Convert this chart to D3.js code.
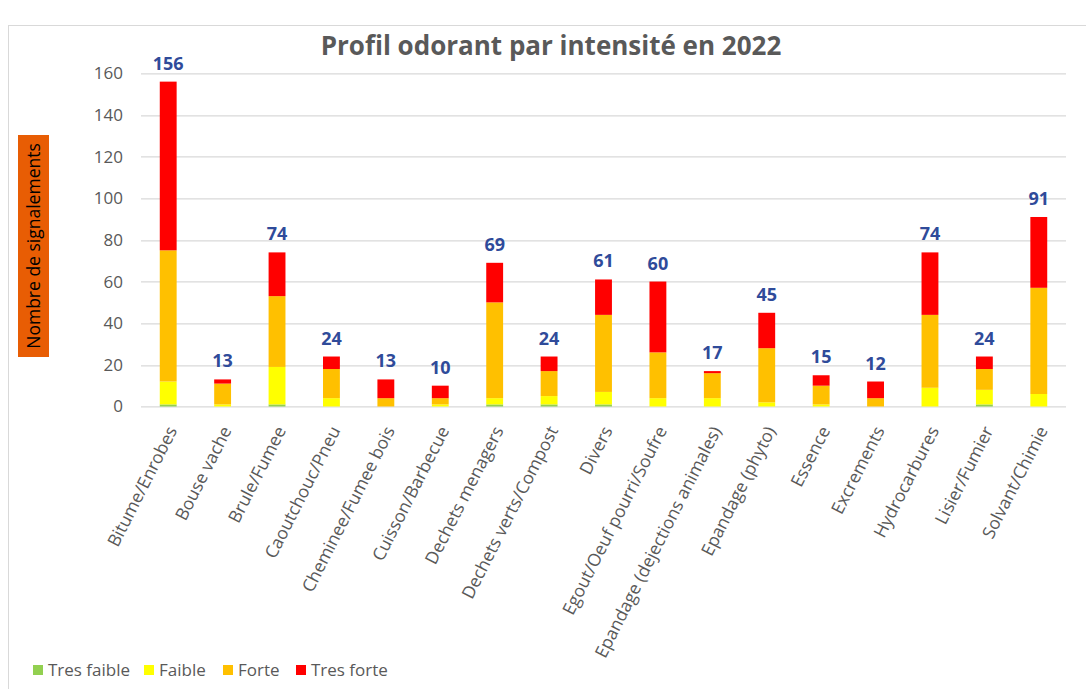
<!DOCTYPE html>
<html>
<head>
<meta charset="utf-8">
<script src="https://cdn.jsdelivr.net/npm/d3@7"></script>
<style>
  body { margin: 0; background: #fff; }
  svg { display: block; font-family: "Open Sans", "Noto Sans", sans-serif; }
</style>
</head>
<body>
<svg id="graph" width="1086" height="689"></svg>
<script>
// Categories (odour types)
const categories = [
  'Bitume/Enrobes', 'Bouse vache', 'Brule/Fumee', 'Caoutchouc/Pneu',
  'Cheminee/Fumee bois', 'Cuisson/Barbecue', 'Dechets menagers',
  'Dechets verts/Compost', 'Divers', 'Egout/Oeuf pourri/Soufre',
  'Epandage (dejections animales)', 'Epandage (phyto)', 'Essence',
  'Excrements', 'Hydrocarbures', 'Lisier/Fumier', 'Solvant/Chimie'
];

// Series values
const tresFaible = [1, 0, 1, 0, 0, 0, 1, 1, 1, 0, 0, 0, 0, 0, 0, 1, 0];
const faible     = [11, 1, 18, 4, 0, 1, 3, 4, 6, 4, 4, 2, 1, 0, 9, 7, 6];
const forte      = [63, 10, 34, 14, 4, 3, 46, 12, 37, 22, 12, 26, 9, 4, 35, 10, 51];
const tresForte  = [81, 2, 21, 6, 9, 6, 19, 7, 17, 34, 1, 17, 5, 8, 30, 6, 34];

const seriesNames = ['Tres faible', 'Faible', 'Forte', 'Tres forte'];
const seriesColors = ['#92D050', '#FFFF00', '#FFC000', '#FF0000'];

const yTicks = [0, 20, 40, 60, 80, 100, 120, 140, 160];

const title = 'Profil odorant par intensité en 2022';
const yLabel = 'Nombre de signalements';

/**
 * Draw chart
 */
const drawChart = () => {
  const svg = d3.select('#graph');
  const margin = {top: 73.3, left: 141, right: 20, bottom: 282.5};
  const width = 1086 - margin.left - margin.right;
  const height = 689 - margin.top - margin.bottom;

  const rows = categories.map((c, i) => ({
    cat: c,
    'Tres faible': tresFaible[i],
    'Faible': faible[i],
    'Forte': forte[i],
    'Tres forte': tresForte[i]
  }));
  const stacked = d3.stack().keys(seriesNames)(rows);

  const x = d3.scaleBand().domain(categories).range([0, width]).paddingInner(0.69).paddingOuter(0.345);
  const y = d3.scaleLinear().domain([0, 160]).range([height, 0]);

  // chart frame (only top/left edge visible in the crop)
  svg.append('rect')
    .attr('x', 8.5).attr('y', 25.5)
    .attr('width', 1100).attr('height', 700)
    .attr('fill', 'none')
    .attr('stroke', '#D9D9D9')
    .attr('stroke-width', 1);

  // Title
  svg.append('text')
    .attr('x', 551).attr('y', 55)
    .attr('text-anchor', 'middle')
    .attr('font-size', '26px')
    .attr('font-weight', 'bold')
    .attr('fill', '#595959')
    .text(title);

  const g = svg.append('g')
    .attr('transform', `translate(${margin.left},${margin.top})`);

  // Gridlines
  g.append('g')
    .selectAll('line')
    .data(yTicks)
    .join('line')
    .attr('x1', 0).attr('x2', width)
    .attr('y1', d => Math.round(y(d)) + 0.5).attr('y2', d => Math.round(y(d)) + 0.5)
    .attr('stroke', '#D9D9D9')
    .attr('stroke-width', 1.2);

  // Y - Axis tick labels
  const yAxis = g.append('g')
    .call(d3.axisLeft(y).tickValues(yTicks).tickSize(0).tickPadding(18));
  yAxis.select('.domain').remove();
  yAxis.selectAll('text')
    .attr('font-size', '17px')
    .attr('font-family', '"Open Sans", sans-serif')
    .attr('fill', '#595959');

  // Stacked bars
  g.append('g')
    .selectAll('g')
    .data(stacked)
    .join('g')
    .attr('fill', (d, i) => seriesColors[i])
    .selectAll('rect')
    .data(d => d)
    .join('rect')
    .attr('x', d => x(d.data.cat))
    .attr('y', d => y(d[1]))
    .attr('width', x.bandwidth())
    .attr('height', d => y(d[0]) - y(d[1]));

  // Totals above bars
  const totals = categories.map((c, i) => tresFaible[i] + faible[i] + forte[i] + tresForte[i]);
  g.append('g')
    .selectAll('text')
    .data(totals)
    .join('text')
    .attr('x', (d, i) => x(categories[i]) + x.bandwidth() / 2)
    .attr('y', d => y(d) - 12)
    .attr('text-anchor', 'middle')
    .attr('font-size', '18px')
    .attr('font-weight', 'bold')
    .attr('fill', '#2F4B9A')
    .text(d => d);

  // X - Axis labels (rotated)
  const xAxis = g.append('g')
    .attr('transform', `translate(0,${height})`)
    .call(d3.axisBottom(x).tickSize(0).tickPadding(0));
  xAxis.select('.domain').remove();
  xAxis.selectAll('text')
    .attr('font-size', '17.5px')
    .attr('font-family', '"Open Sans", sans-serif')
    .attr('fill', '#595959')
    .attr('text-anchor', 'end')
    .attr('dy', '0.35em')
    .attr('transform', 'translate(4,21) rotate(-63)');

  // Y - Axis label box
  svg.append('rect')
    .attr('x', 18).attr('y', 135)
    .attr('width', 31).attr('height', 222)
    .attr('fill', '#E85D04');
  svg.append('text')
    .attr('transform', 'translate(39.5,246) rotate(-90)')
    .attr('text-anchor', 'middle')
    .attr('font-size', '17.5px')
    .attr('fill', '#000')
    .text(yLabel);

  // Legend
  const legendX = [33, 144, 223, 296];
  const legend = svg.append('g')
    .selectAll('g')
    .data(seriesNames)
    .join('g')
    .attr('transform', (d, i) => `translate(${legendX[i]},665)`);
  legend.append('rect')
    .attr('width', 10).attr('height', 10)
    .attr('fill', (d, i) => seriesColors[i]);
  legend.append('text')
    .attr('x', 15).attr('y', 5)
    .attr('dy', '0.35em')
    .attr('font-size', '17px')
    .attr('fill', '#595959')
    .text(d => d);
};

drawChart();
</script>
</body>
</html>
